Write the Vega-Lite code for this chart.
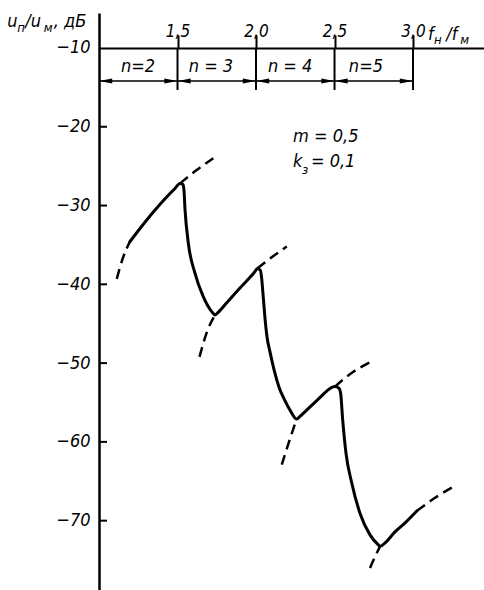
{
  "$schema": "https://vega.github.io/schema/vega-lite/v6.json",
  "width": 385,
  "height": 577,
  "autosize": "none",
  "padding": {"left": 99, "top": 13, "right": 0, "bottom": 0},
  "background": "white",
  "config": {
    "view": {"stroke": null},
    "font": "DejaVu Sans Condensed",
    "text": {"font": "DejaVu Sans Condensed", "fontStyle": "italic", "color": "black"}
  },
  "datasets": {
    "solid": [
      {"ratio": 1.197, "db": -34.58}, {"ratio": 1.261, "db": -32.91}, {"ratio": 1.346, "db": -30.81},
      {"ratio": 1.431, "db": -28.91}, {"ratio": 1.484, "db": -27.83}, {"ratio": 1.516, "db": -27.2},
      {"ratio": 1.535, "db": -27.32}, {"ratio": 1.541, "db": -28.02}, {"ratio": 1.548, "db": -30.56},
      {"ratio": 1.569, "db": -34.78}, {"ratio": 1.611, "db": -38.59}, {"ratio": 1.664, "db": -41.56},
      {"ratio": 1.718, "db": -43.46}, {"ratio": 1.739, "db": -43.88}, {"ratio": 1.752, "db": -43.69},
      {"ratio": 1.815, "db": -42.30}, {"ratio": 1.879, "db": -40.88}, {"ratio": 1.943, "db": -39.51},
      {"ratio": 1.994, "db": -38.36}, {"ratio": 2.008, "db": -37.98}, {"ratio": 2.027, "db": -38.2},
      {"ratio": 2.035, "db": -39.06}, {"ratio": 2.045, "db": -41.35}, {"ratio": 2.057, "db": -44.26},
      {"ratio": 2.070, "db": -46.67}, {"ratio": 2.089, "db": -48.58}, {"ratio": 2.115, "db": -50.86},
      {"ratio": 2.146, "db": -53.02}, {"ratio": 2.185, "db": -54.80}, {"ratio": 2.223, "db": -56.19},
      {"ratio": 2.259, "db": -57.1}, {"ratio": 2.280, "db": -56.76}, {"ratio": 2.331, "db": -55.81},
      {"ratio": 2.395, "db": -54.61}, {"ratio": 2.452, "db": -53.53}, {"ratio": 2.490, "db": -53.02},
      {"ratio": 2.503, "db": -52.98}, {"ratio": 2.529, "db": -53.21}, {"ratio": 2.539, "db": -53.82},
      {"ratio": 2.552, "db": -57.21}, {"ratio": 2.573, "db": -61.43}, {"ratio": 2.610, "db": -65.24},
      {"ratio": 2.662, "db": -69.05}, {"ratio": 2.726, "db": -71.80}, {"ratio": 2.779, "db": -73.07},
      {"ratio": 2.790, "db": -73.26}, {"ratio": 2.822, "db": -72.82}, {"ratio": 2.885, "db": -71.42},
      {"ratio": 2.949, "db": -70.28}, {"ratio": 3.024, "db": -68.76}
    ],
    "dashed": [
      {"arc": "a", "ratio": 1.113, "db": -39.3}, {"arc": "a", "ratio": 1.155, "db": -36.5}, {"arc": "a", "ratio": 1.197, "db": -34.58},
      {"arc": "b", "ratio": 1.516, "db": -27.2}, {"arc": "b", "ratio": 1.622, "db": -25.5}, {"arc": "b", "ratio": 1.728, "db": -24.0},
      {"arc": "c", "ratio": 1.640, "db": -49.2}, {"arc": "c", "ratio": 1.690, "db": -45.9}, {"arc": "c", "ratio": 1.739, "db": -43.88},
      {"arc": "d", "ratio": 2.008, "db": -37.98}, {"arc": "d", "ratio": 2.111, "db": -36.4}, {"arc": "d", "ratio": 2.196, "db": -35.2},
      {"arc": "e", "ratio": 2.164, "db": -62.9}, {"arc": "e", "ratio": 2.210, "db": -60.0}, {"arc": "e", "ratio": 2.259, "db": -57.1},
      {"arc": "f", "ratio": 2.503, "db": -52.98}, {"arc": "f", "ratio": 2.620, "db": -51.1}, {"arc": "f", "ratio": 2.726, "db": -49.9},
      {"arc": "g", "ratio": 2.726, "db": -76.0}, {"arc": "g", "ratio": 2.755, "db": -74.7}, {"arc": "g", "ratio": 2.790, "db": -73.26},
      {"arc": "h", "ratio": 3.024, "db": -68.76}, {"arc": "h", "ratio": 3.140, "db": -67.1}, {"arc": "h", "ratio": 3.257, "db": -65.7}
    ],
    "yticks": [
      {"db": -20}, {"db": -30}, {"db": -40}, {"db": -50}, {"db": -60}, {"db": -70}
    ],
    "bands": [
      {"label": "n=2", "from": 1.0, "to": 1.5, "mid": 1.248},
      {"label": "n = 3", "from": 1.5, "to": 2.0, "mid": 1.713},
      {"label": "n = 4", "from": 2.0, "to": 2.5, "mid": 2.217},
      {"label": "n=5", "from": 2.5, "to": 3.0, "mid": 2.70}
    ],
    "notes": [
      {"t": "u", "kind": "main", "ratio": 0.416, "db": -6.75},
      {"t": "п", "kind": "sub", "ratio": 0.480, "db": -7.5},
      {"t": "/u", "kind": "main", "ratio": 0.530, "db": -6.75},
      {"t": "м", "kind": "sub", "ratio": 0.648, "db": -7.5},
      {"t": ", дБ", "kind": "main", "ratio": 0.712, "db": -6.75},
      {"t": "f", "kind": "main", "ratio": 3.095, "db": -8.35},
      {"t": "н", "kind": "sub", "ratio": 3.133, "db": -9.0},
      {"t": "/f", "kind": "main", "ratio": 3.212, "db": -8.35},
      {"t": "м", "kind": "sub", "ratio": 3.300, "db": -9.0},
      {"t": "m = 0,5", "kind": "main", "ratio": 2.236, "db": -21.3},
      {"t": "k", "kind": "main", "ratio": 2.236, "db": -24.5},
      {"t": "з", "kind": "sub", "ratio": 2.293, "db": -25.5},
      {"t": "= 0,1", "kind": "main", "ratio": 2.350, "db": -24.5}
    ]
  },
  "layer": [
    {
      "data": {"name": "solid"},
      "mark": {"type": "line", "interpolate": "monotone", "color": "black", "strokeWidth": 3, "strokeCap": "round", "strokeJoin": "round"},
      "encoding": {
        "x": {
          "field": "ratio", "type": "quantitative",
          "scale": {"domain": [1.0, 3.452], "nice": false, "zero": false},
          "axis": {
            "orient": "top", "offset": -35, "title": null, "grid": false,
            "values": [1.5, 2.0, 2.5, 3.0],
            "labelExpr": "replace(format(datum.value, '.1f'), '.', ',')",
            "tickSize": 13, "tickWidth": 2, "tickColor": "black",
            "domainWidth": 2, "domainColor": "black",
            "labelPadding": -5, "labelFlush": false, "labelOverlap": false,
            "labelFont": "DejaVu Sans Condensed", "labelFontStyle": "italic",
            "labelFontSize": 17, "labelColor": "black"
          }
        },
        "y": {
          "field": "db", "type": "quantitative",
          "scale": {"domain": [-78.8, -5.56], "nice": false, "zero": false},
          "axis": {
            "orient": "left", "title": null, "grid": false,
            "values": [-10, -20, -30, -40, -50, -60, -70],
            "labelExpr": "'−' + abs(datum.value)",
            "ticks": false, "tickSize": 0,
            "domainWidth": 2.5, "domainColor": "black",
            "labelPadding": 9, "labelFlush": false, "labelOverlap": false,
            "labelFont": "DejaVu Sans Condensed", "labelFontStyle": "italic",
            "labelFontSize": 18, "labelColor": "black"
          }
        }
      }
    },
    {
      "data": {"name": "dashed"},
      "mark": {"type": "line", "interpolate": "monotone", "color": "black", "strokeWidth": 2.5, "strokeDash": [10, 6]},
      "encoding": {
        "x": {"field": "ratio", "type": "quantitative"},
        "y": {"field": "db", "type": "quantitative"},
        "detail": {"field": "arc"}
      }
    },
    {
      "data": {"name": "yticks"},
      "mark": {"type": "rule", "color": "black", "strokeWidth": 2},
      "encoding": {
        "y": {"field": "db", "type": "quantitative"},
        "x": {"datum": 1.0},
        "x2": {"datum": 1.051}
      }
    },
    {
      "data": {"name": "bands"},
      "mark": {"type": "rule", "color": "black", "strokeWidth": 2},
      "encoding": {
        "x": {"field": "to", "type": "quantitative"},
        "y": {"datum": -10},
        "y2": {"datum": -15.33}
      }
    },
    {
      "data": {"name": "bands"},
      "mark": {"type": "rule", "color": "black", "strokeWidth": 1.5},
      "encoding": {
        "x": {"field": "from", "type": "quantitative"},
        "x2": {"field": "to"},
        "y": {"datum": -14.19}
      }
    },
    {
      "data": {"name": "bands"},
      "mark": {"type": "point", "shape": "M0,0L2.2,-0.4L2.2,0.4Z", "size": 144, "filled": true, "color": "black", "opacity": 1},
      "encoding": {
        "x": {"field": "from", "type": "quantitative"},
        "y": {"datum": -14.19}
      }
    },
    {
      "data": {"name": "bands"},
      "mark": {"type": "point", "shape": "M0,0L-2.2,-0.4L-2.2,0.4Z", "size": 144, "filled": true, "color": "black", "opacity": 1},
      "encoding": {
        "x": {"field": "to", "type": "quantitative"},
        "y": {"datum": -14.19}
      }
    },
    {
      "data": {"name": "bands"},
      "mark": {"type": "text", "align": "center", "baseline": "middle", "fontSize": 18},
      "encoding": {
        "x": {"field": "mid", "type": "quantitative"},
        "y": {"datum": -12.41},
        "text": {"field": "label"}
      }
    },
    {
      "data": {"name": "notes"},
      "transform": [{"filter": "datum.kind === 'main'"}],
      "mark": {"type": "text", "align": "left", "baseline": "middle", "fontSize": 18, "clip": false},
      "encoding": {
        "x": {"field": "ratio", "type": "quantitative"},
        "y": {"field": "db", "type": "quantitative"},
        "text": {"field": "t"}
      }
    },
    {
      "data": {"name": "notes"},
      "transform": [{"filter": "datum.kind === 'sub'"}],
      "mark": {"type": "text", "align": "left", "baseline": "middle", "fontSize": 13, "clip": false},
      "encoding": {
        "x": {"field": "ratio", "type": "quantitative"},
        "y": {"field": "db", "type": "quantitative"},
        "text": {"field": "t"}
      }
    }
  ]
}
